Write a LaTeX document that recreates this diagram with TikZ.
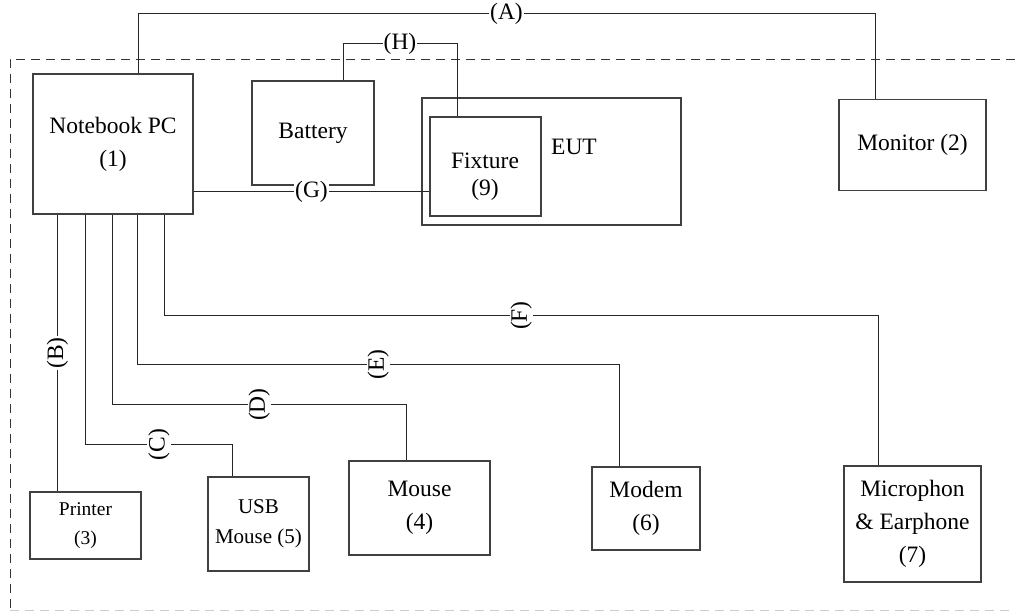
\documentclass[tikz,border=0pt]{standalone}
\usepackage{fontspec}
\setmainfont{Liberation Serif}
\usetikzlibrary{positioning}

\begin{document}
\begin{tikzpicture}[x=1pt,y=-1pt,font=\fontsize{23.5}{33}\selectfont,
  box/.style={draw=black!75,line width=1.2pt,align=center,inner sep=0pt},
  wire/.style={draw=black!85,line width=1pt},
  lbl/.style={fill=white,inner sep=1pt},
  vlbl/.style={lbl,rotate=90}]
\useasboundingbox (0,0) rectangle (1015,612);
\draw[dashed,dash pattern=on 9pt off 6pt,black!80] (1015,59) -- (10,59) -- (10,610);
\draw[dashed,dash pattern=on 9pt off 6pt,black!20] (10,610) -- (1015,610);
\node (pc) [box,minimum width=160pt,minimum height=140pt] at (113,144) {Notebook PC\\(1)};
\node (mon) [box,minimum width=147pt,minimum height=91pt] at (912.5,145) {Monitor (2)};
\node (bat) [box,minimum width=122pt,minimum height=104pt] at (313,133) {Battery};
\node (eut) [box,minimum width=259pt,minimum height=127pt] at (551.5,161.5) {};
\node (fix) [box,minimum width=111pt,minimum height=99pt] at (485.5,166.5) {};
\node (fixtxt) [align=center,font=\fontsize{23.5}{27}\selectfont] at (485,177) {Fixture\\(9)};
\node (euttxt) at (574,147) {EUT};
\node (prn) [box,minimum width=111pt,minimum height=67pt,font=\fontsize{19.5}{29}\selectfont] at (85.5,525.5) {Printer\\(3)};
\node (usb) [box,minimum width=101pt,minimum height=94pt,font=\fontsize{21}{30}\selectfont] at (258.5,524) {USB\\Mouse (5)};
\node (mouse) [box,minimum width=141pt,minimum height=94pt] at (419.5,508) {Mouse\\(4)};
\node (modem) [box,minimum width=108pt,minimum height=83pt] at (646,508.5) {Modem\\(6)};
\node (mic) [box,minimum width=137pt,minimum height=116pt] at (912.5,524) {Microphon\\\& Earphone\\(7)};
\draw[wire] ([xshift=25pt]pc.north) -- ++(0,-60) -| node[lbl,pos=.25]{(A)} ([xshift=-37.5pt]mon.north);
\draw[wire] ([xshift=30pt]bat.north) -- ++(0,-37) -| node[lbl,pos=.25]{(H)} ([xshift=-28.5pt]fix.north);
\draw[wire] ([yshift=-48pt]pc.east) -- node[lbl]{(G)} ([yshift=-25.5pt]fix.west);
\draw[wire] ([xshift=25pt]pc.south west) -- node[vlbl]{(B)} ([xshift=28pt]prn.north west);
\draw[wire] ([xshift=53pt]pc.south west) -- ++(0,230) -| node[vlbl,pos=.25]{(C)} ([xshift=25pt]usb.north west);
\draw[wire] ([xshift=80pt]pc.south west) -- ++(0,190) -| node[vlbl,pos=.25]{(D)} ([xshift=-13.5pt]mouse.north);
\draw[wire] ([xshift=105pt]pc.south west) -- ++(0,150) -| node[vlbl,pos=.25]{(E)} ([xshift=-27pt]modem.north);
\draw[wire] ([xshift=132pt]pc.south west) -- ++(0,101) -| node[vlbl,pos=.25]{(F)} ([xshift=-34.5pt]mic.north);
\end{tikzpicture}
\end{document}
